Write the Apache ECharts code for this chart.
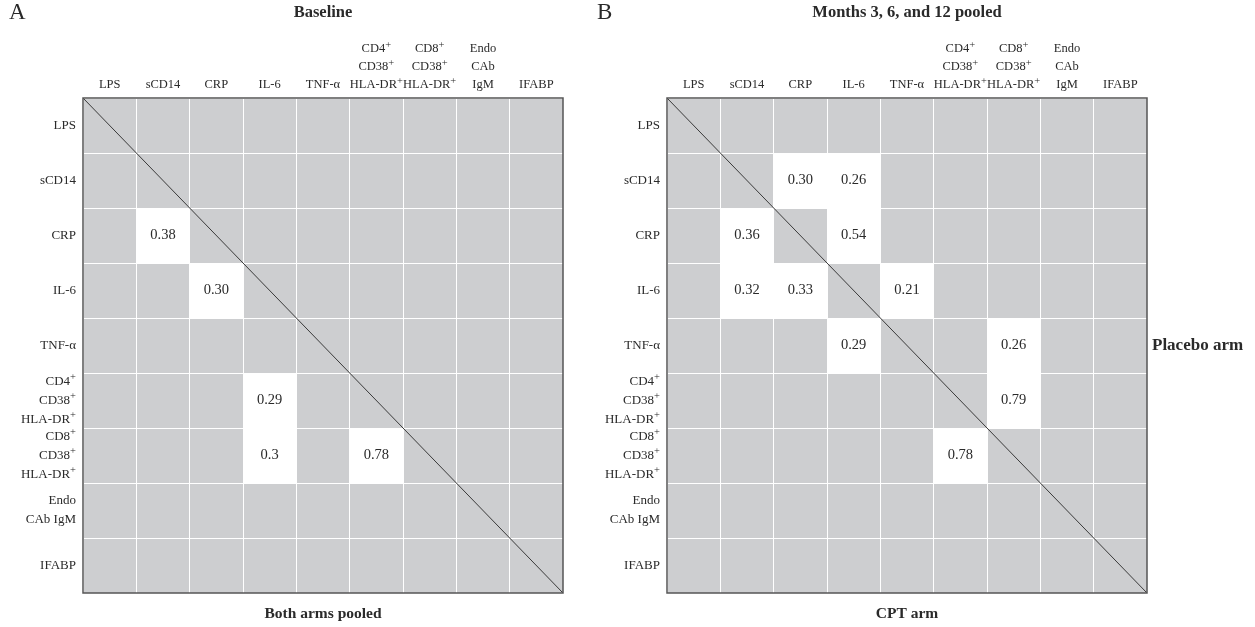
<!DOCTYPE html>
<html><head><meta charset="utf-8">
<script src="https://cdn.jsdelivr.net/npm/echarts@6/dist/echarts.min.js"></script>
<style>html,body{margin:0;padding:0;background:#fff}#c{width:1255px;height:627px}</style>
</head><body><div id="c"></div>
<script>
const markers = ['LPS','sCD14','CRP','IL-6','TNF','CD4','CD8','Endo','IFABP'];
const colLabels = ['LPS','sCD14','CRP','IL-6','TNF-α','CD4+\nCD38+\nHLA-DR+','CD8+\nCD38+\nHLA-DR+','Endo\nCAb\nIgM','IFABP'];
const rowLabels = ['LPS','sCD14','CRP','IL-6','TNF-α','CD4+\nCD38+\nHLA-DR+','CD8+\nCD38+\nHLA-DR+','Endo\nCAb IgM','IFABP'];

// [column marker, row marker, correlation label]
const baselineCells = [['sCD14','CRP','0.38'],['CRP','IL-6','0.30'],['IL-6','CD4','0.29'],['IL-6','CD8','0.3'],['CD4','CD8','0.78']];
const placeboCells = [['CRP','sCD14','0.30'],['IL-6','sCD14','0.26'],['IL-6','CRP','0.54'],['TNF','IL-6','0.21'],['CD8','TNF','0.26'],['CD8','CD4','0.79']];
const cptCells = [['sCD14','CRP','0.36'],['sCD14','IL-6','0.32'],['CRP','IL-6','0.33'],['IL-6','TNF','0.29'],['CD4','CD8','0.78']];

const FONT = '"Liberation Serif", "DejaVu Serif", serif';
const TXT = '#2a2a2a';
const GRAY = '#cdced0';

function fmt(s){ return s.replace(/\+/g, '{s|+}'); }
const richX = { s: { fontSize: 10.5, fontFamily: FONT, color: TXT, verticalAlign: 'top', lineHeight: 18 } };
const richY = { s: { fontSize: 10.5, fontFamily: FONT, color: TXT, verticalAlign: 'top', lineHeight: 19 } };

function xAx(gi){
  return { type:'category', gridIndex: gi, data: markers, position:'top',
    axisLine:{show:false}, axisTick:{show:false},
    splitLine:{show:true, interval:0, lineStyle:{color:'#fff', width:1}},
    axisLabel:{interval:0, margin:4, fontFamily:FONT, fontSize:12.5, color:TXT, lineHeight:18, rich:richX,
      formatter:(v,i)=>fmt(colLabels[i])} };
}
function yAx(gi){
  return { type:'category', gridIndex: gi, data: markers, inverse:true,
    axisLine:{show:false}, axisTick:{show:false},
    splitLine:{show:true, interval:0, lineStyle:{color:'#fff', width:1}},
    axisLabel:{interval:0, margin:7, fontFamily:FONT, fontSize:13, color:TXT, lineHeight:19, align:'right', rich:richY,
      formatter:(v,i)=>fmt(rowLabels[i])} };
}
function cellSeries(gi, cells){
  return { type:'custom', xAxisIndex: gi, yAxisIndex: gi, z: 3,
    data: cells.map(c=>[c[0], c[1]]),
    renderItem: function(params, api){
      const c = api.coord([api.value(0), api.value(1)]);
      const s = api.size([1,1]);
      return { type:'group', children:[
        { type:'rect', shape:{x:c[0]-s[0]/2, y:c[1]-s[1]/2, width:s[0], height:s[1]}, style:{fill:'#fff'} },
        { type:'text', style:{ x:c[0], y:c[1], text: cells[params.dataIndex][2], align:'center', verticalAlign:'middle',
          fontFamily: FONT, fontSize: 14.5, fill: TXT } }
      ]};
    } };
}
function frameSeries(gi){
  return { type:'custom', xAxisIndex: gi, yAxisIndex: gi, z: 5,
    data: [[markers[0], markers[0]]],
    renderItem: function(params, api){
      const cs = params.coordSys;
      return { type:'group', children:[
        { type:'line', shape:{x1:cs.x, y1:cs.y, x2:cs.x+cs.width, y2:cs.y+cs.height}, style:{stroke:'#3a3a3a', lineWidth:1} },
        { type:'rect', shape:{x:cs.x, y:cs.y, width:cs.width, height:cs.height}, style:{fill:null, stroke:'#555', lineWidth:1.5} }
      ]};
    } };
}

const chart = echarts.init(document.getElementById('c'));
chart.setOption({
  animation:false,
  backgroundColor:'#fff',
  grid:[
    {left:83, top:98, width:480, height:495, show:true, backgroundColor:GRAY, borderWidth:0},
    {left:667, top:98, width:480, height:495, show:true, backgroundColor:GRAY, borderWidth:0}
  ],
  xAxis:[xAx(0), xAx(1)],
  yAxis:[yAx(0), yAx(1)],
  series:[
    cellSeries(0, baselineCells), frameSeries(0),
    cellSeries(1, placeboCells), cellSeries(1, cptCells), frameSeries(1)
  ],
  graphic:[
    {type:'text', left:9, top:1, style:{text:'A', fontFamily:FONT, fontSize:23, fill:TXT}},
    {type:'text', left:597, top:1, style:{text:'B', fontFamily:FONT, fontSize:23, fill:TXT}},
    {type:'text', x:323, y:13, style:{text:'Baseline', fontFamily:FONT, fontSize:16.5, fontWeight:'bold', fill:TXT, align:'center', verticalAlign:'middle'}},
    {type:'text', x:907, y:13, style:{text:'Months 3, 6, and 12 pooled', fontFamily:FONT, fontSize:16.5, fontWeight:'bold', fill:TXT, align:'center', verticalAlign:'middle'}},
    {type:'text', x:323, y:614, style:{text:'Both arms pooled', fontFamily:FONT, fontSize:15.5, fontWeight:'bold', fill:TXT, align:'center', verticalAlign:'middle'}},
    {type:'text', x:907, y:614, style:{text:'CPT arm', fontFamily:FONT, fontSize:15.5, fontWeight:'bold', fill:TXT, align:'center', verticalAlign:'middle'}},
    {type:'text', x:1152, y:346, style:{text:'Placebo arm', fontFamily:FONT, fontSize:17, fontWeight:'bold', fill:TXT, align:'left', verticalAlign:'middle'}}
  ]
});
</script></body></html>
